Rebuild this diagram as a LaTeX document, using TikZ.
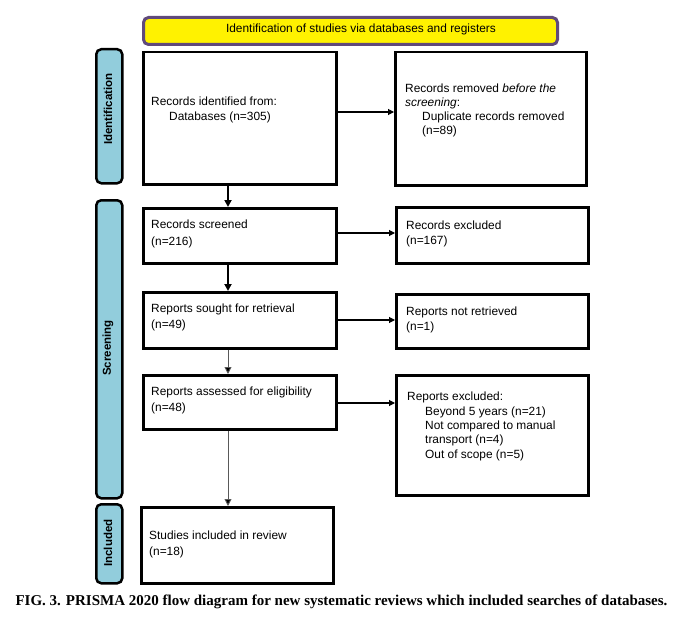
\documentclass[tikz,border=0pt]{standalone}
\usepackage{fontspec}
\setmainfont{Liberation Sans}
\newfontfamily\capfont{Liberation Serif}
\usetikzlibrary{arrows.meta}
\definecolor{sidebl}{RGB}{146,205,220}
\definecolor{hdrpurple}{RGB}{96,74,123}
\begin{document}
\begin{tikzpicture}[x=1pt,y=-1pt,
  box/.style={draw=black,line width=2.5pt,inner sep=0,anchor=north west},
  side/.style={draw=black,line width=2.5pt,fill=sidebl,rounded corners=5pt,inner sep=0,anchor=north west},
  sidelbl/.style={rotate=90,inner sep=0,font=\bfseries\fontsize{11.5}{13}\selectfont},
  txt/.style={anchor=north west,inner sep=0,align=left},
  thickarr/.style={line width=2pt,-{Triangle[length=7pt,width=7pt]}},
  thinarr/.style={line width=0.9pt,draw=black!65,-{Triangle[length=7pt,width=7pt,fill=black]}},
  harr/.style={line width=1.1pt,-{Triangle[length=6pt,width=6pt]}}]
\useasboundingbox (0,0) rectangle (681,618);
\fill[white] (0,0) rectangle (681,618);
% header
\node[box,draw=hdrpurple,line width=3pt,fill=yellow,rounded corners=5pt,minimum width=414pt,minimum height=27pt] (hdr) at (142,16) {};
\node[inner sep=0,font=\fontsize{11.9}{13}\selectfont] (htxt) at (361,29.5) {Identification of studies via databases and registers};
% sidebars
\node[side,minimum width=26pt,minimum height=134pt] (s1) at (95,48) {};
\node[side,minimum width=26pt,minimum height=298pt] (s2) at (95,199) {};
\node[side,minimum width=26pt,minimum height=79pt] (s3) at (95,503) {};
\node[sidelbl] (l1) at (108,109) {Identification};
\node[sidelbl] (l2) at (108,348) {Screening};
\node[sidelbl] (l3) at (108,543) {Included};
% boxes
\node[box,minimum width=193pt,minimum height=132pt] (b1) at (142,51) {};
\node[box,minimum width=191pt,minimum height=133pt] (r1) at (394,51) {};
\node[box,minimum width=193pt,minimum height=55pt] (b2) at (142,207) {};
\node[box,minimum width=192pt,minimum height=56pt] (r2) at (395,206) {};
\node[box,minimum width=193pt,minimum height=56pt] (b3) at (142,291) {};
\node[box,minimum width=192pt,minimum height=54pt] (r3) at (395,293) {};
\node[box,minimum width=193pt,minimum height=54pt] (b4) at (142,374) {};
\node[box,minimum width=192pt,minimum height=120pt] (r4) at (395,374) {};
\node[box,minimum width=192pt,minimum height=76pt] (b5) at (140,506) {};
% texts
\node[txt,font=\fontsize{11.9}{15}\selectfont] (t1) at (151,97) {Records identified from:\\\hspace*{18pt}Databases (n=305)};
\node[txt,font=\fontsize{11.9}{14}\selectfont] (tr1) at (405,84) {Records removed \textit{before the}\\\textit{screening}:\\\hspace*{17pt}Duplicate records removed\\\hspace*{17pt}(n=89)};
\node[txt,font=\fontsize{11.9}{17}\selectfont] (t2) at (151,220) {Records screened\\(n=216)};
\node[txt,font=\fontsize{11.9}{15}\selectfont] (tr2) at (406,221) {Records excluded\\(n=167)};
\node[txt,font=\fontsize{11.9}{16}\selectfont] (t3) at (151,304) {Reports sought for retrieval\\(n=49)};
\node[txt,font=\fontsize{11.9}{15}\selectfont] (tr3) at (406,307) {Reports not retrieved\\(n=1)};
\node[txt,font=\fontsize{11.9}{16}\selectfont] (t4) at (151,387) {Reports assessed for eligibility\\(n=48)};
\node[txt,font=\fontsize{11.9}{14.3}\selectfont] (tr4) at (407,392) {Reports excluded:\\\hspace*{18pt}Beyond 5 years (n=21)\\\hspace*{18pt}Not compared to manual\\\hspace*{18pt}transport (n=4)\\\hspace*{18pt}Out of scope (n=5)};
\node[txt,font=\fontsize{11.9}{16}\selectfont] (t5) at (149,531) {Studies included in review\\(n=18)};
% arrows
\coordinate (ax) at (228,0);
\coordinate (h1) at (0,112);
\coordinate (h2) at (0,233);
\coordinate (h3) at (0,320);
\coordinate (h4) at (0,403);
\draw[thickarr] (b1.south -| ax) -- (b2.north -| ax);
\draw[thickarr] (b2.south -| ax) -- (b3.north -| ax);
\draw[thinarr] (b3.south -| ax) -- (b4.north -| ax);
\draw[thinarr] (b4.south -| ax) -- (b5.north -| ax);
\draw[harr] (b1.east |- h1) -- (r1.west |- h1);
\draw[harr] (b2.east |- h2) -- (r2.west |- h2);
\draw[harr] (b3.east |- h3) -- (r3.west |- h3);
\draw[harr] (b4.east |- h4) -- (r4.west |- h4);
% caption
\node[inner sep=0,font=\capfont\bfseries\fontsize{15}{17}\selectfont] (cap) at (341.5,602) {FIG. 3. PRISMA 2020 flow diagram for new systematic reviews which included searches of databases.};
\end{tikzpicture}
\end{document}
